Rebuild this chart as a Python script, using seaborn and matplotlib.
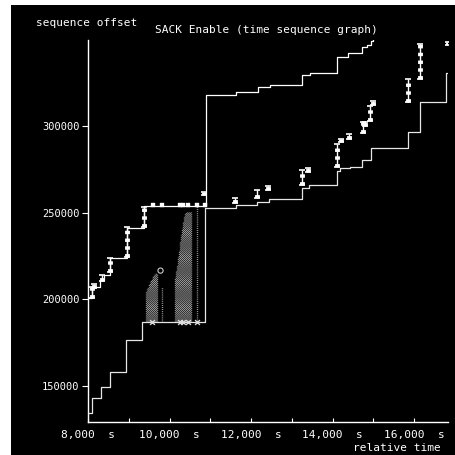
import numpy as np
import pandas as pd
import matplotlib.pyplot as plt
from matplotlib.patches import Rectangle
import seaborn as sns

# Window (ack + advertised window) step line
window_t = [8025, 8100, 8295, 8395, 8540, 8955, 9375, 10895, 11630, 12160, 12465,
            13250, 13450, 14110, 14380, 14725, 14845, 14945, 14990]
window_seq = [200800, 207100, 211200, 214000, 223800, 241200, 253800, 317900, 319300,
              322300, 323600, 329100, 330600, 339800, 341800, 345600, 346400, 349000,
              352000]

# Cumulative ack step line
ack_t = [8005, 8090, 8320, 8540, 8935, 9335, 10870, 11620, 12145, 12435, 13250, 13425,
         14100, 14185, 14430, 14725, 14945, 15855, 16140, 16790, 16900]
ack_seq = [134300, 142900, 149600, 158300, 176500, 187100, 252500, 254400, 256300,
           257900, 264100, 265600, 273700, 275500, 276500, 280400, 287000, 296700,
           314000, 330400, 330400]

# Data segments sent (time, low seq, high seq)
seg_t = [8090, 8155, 8335, 8540, 8950, 9375, 10845, 11605, 12140, 12415, 13245, 13405,
         14100, 14200, 14410, 14740, 14795, 14930, 15000, 15845, 16145, 16830]
seg_lo = [200500, 206500, 210500, 215800, 224400, 241700, 260200, 255600, 258500,
          263100, 266000, 273500, 276500, 290800, 292500, 296000, 300000, 302900,
          312100, 313800, 327100, 346700]
seg_hi = [207000, 208800, 214000, 223800, 241700, 253200, 262100, 258500, 263100,
          265400, 274600, 275800, 289800, 292500, 295400, 302300, 302300, 311500,
          314400, 327100, 347300, 348500]

# Retransmissions on the window edge and at ack level
rtx_top_t = [9595, 9815, 10260, 10330, 10455, 10675, 10870]
rtx_top_seq = [254400] * 7
rtx_low_t = [9570, 10260, 10330, 10455, 10675]
rtx_low_seq = [186900] * 5

# SACK blocks (time, top of block), all starting at the ack
sack_t = [9423, 9450, 9472, 9497, 9521, 9546, 9571, 9595, 9620, 9645, 9669, 9693, 9809,
          10135, 10160, 10184, 10209, 10233, 10258, 10282, 10307, 10331, 10356, 10380,
          10405, 10429, 10454, 10479, 10503, 10528, 10675]
sack_top = [204200, 205700, 207100, 208500, 210000, 211100, 212300, 213500, 214600,
            215000, 215200, 214600, 207100, 212900, 216300, 219800, 224100, 228500,
            232800, 237100, 240800, 244600, 247200, 249800, 250100, 250400, 250400,
            250400, 250400, 250400, 255600]
sack_base = 186900

sns.set_theme(style="dark")
plt.rcParams['font.family'] = ['DejaVu Sans Mono', 'DejaVu Sans']

fig = plt.figure(figsize=(4.56, 4.55), dpi=100, facecolor='white')
fig.patches.append(Rectangle((11 / 456, 0), 1, 450 / 455, transform=fig.transFigure,
                             facecolor='black', edgecolor='none', zorder=-10))
ax = fig.add_axes([88 / 456, 33 / 455, 360 / 456, 382 / 455])
ax.set_facecolor('black')

# SACK shading, alternate columns staggered for a stippled look
sack = pd.DataFrame({'t': sack_t, 'top': sack_top})
even = sack.iloc[::2]
odd = sack.iloc[1::2]
ax.vlines(even['t'], sack_base, even['top'], colors='#b4b4b4', linewidth=1.0,
          linestyles=(0, (0.6, 0.9)), zorder=1)
ax.vlines(odd['t'], sack_base, odd['top'], colors='#b4b4b4', linewidth=1.0,
          linestyles=(0.75, (0.6, 0.9)), zorder=1)

sns.lineplot(x=window_t, y=window_seq, drawstyle='steps-post', color='white',
             linewidth=0.9, estimator=None, ax=ax, zorder=3)
sns.lineplot(x=ack_t, y=ack_seq, drawstyle='steps-post', color='#e6e6e6',
             linewidth=0.9, estimator=None, ax=ax, zorder=3)

# segments: thin bar plus striped overlay
ax.vlines(seg_t, seg_lo, seg_hi, colors='white', linewidth=1.0, zorder=4)
ax.vlines(seg_t, seg_lo, seg_hi, colors='white', linewidth=3.5,
          linestyles=(0, (0.7, 0.9)), zorder=4)
sns.scatterplot(x=seg_t, y=seg_hi, marker='_', s=22, color='white', linewidth=1.2,
                ax=ax, zorder=5)
sns.scatterplot(x=seg_t, y=seg_lo, marker='_', s=22, color='white', linewidth=1.2,
                ax=ax, zorder=5)

sns.scatterplot(x=rtx_top_t, y=rtx_top_seq, marker='s', s=10, color='white',
                edgecolor='white', ax=ax, zorder=5)
sns.scatterplot(x=rtx_low_t, y=rtx_low_seq, marker='x', s=12, color='#dddddd',
                linewidth=1.0, ax=ax, zorder=5)
ax.scatter([9780], [216500], marker='o', s=14, facecolor='none', edgecolor='#cccccc',
           linewidth=0.8, zorder=5)

ax.set_xlim(8000, 16834)
ax.set_ylim(129200, 349500)

for side in ['top', 'right']:
    ax.spines[side].set_visible(False)
for side in ['left', 'bottom']:
    ax.spines[side].set_visible(True)
    ax.spines[side].set_color('white')
    ax.spines[side].set_linewidth(1.0)

xticks = [8000, 10000, 12000, 14000, 16000]
xlabels = ['8,000  s', '10,000  s', '12,000  s', '14,000  s', '16,000  s']
yticks = [150000, 200000, 250000, 300000]
ax.set_xticks(xticks)
ax.set_xticklabels(xlabels)
ax.set_xticks([9000, 11000, 13000, 15000], minor=True)
ax.set_yticks(yticks)
ax.set_yticklabels([str(v) for v in yticks])
ax.tick_params(axis='x', which='both', direction='in', length=3, width=0.8,
               colors='white', labelsize=8, pad=6, bottom=True)
ax.tick_params(axis='y', direction='out', length=4, width=0.8, colors='white',
               labelsize=7.5, pad=2, left=True)
ax.grid(False)
ax.set_xlabel('')
ax.set_ylabel('')

fig.text(87 / 456, 1 - 23 / 455, 'sequence offset', color='white', fontsize=8,
         ha='center', va='center')
fig.text(266 / 456, 1 - 30 / 455, 'SACK Enable (time sequence graph)', color='white',
         fontsize=8, ha='center', va='center')
fig.text(441 / 456, 1 - 448 / 455, 'relative time', color='white', fontsize=8,
         ha='right', va='center')

fig.savefig('out.png', dpi=100, facecolor=fig.get_facecolor())
